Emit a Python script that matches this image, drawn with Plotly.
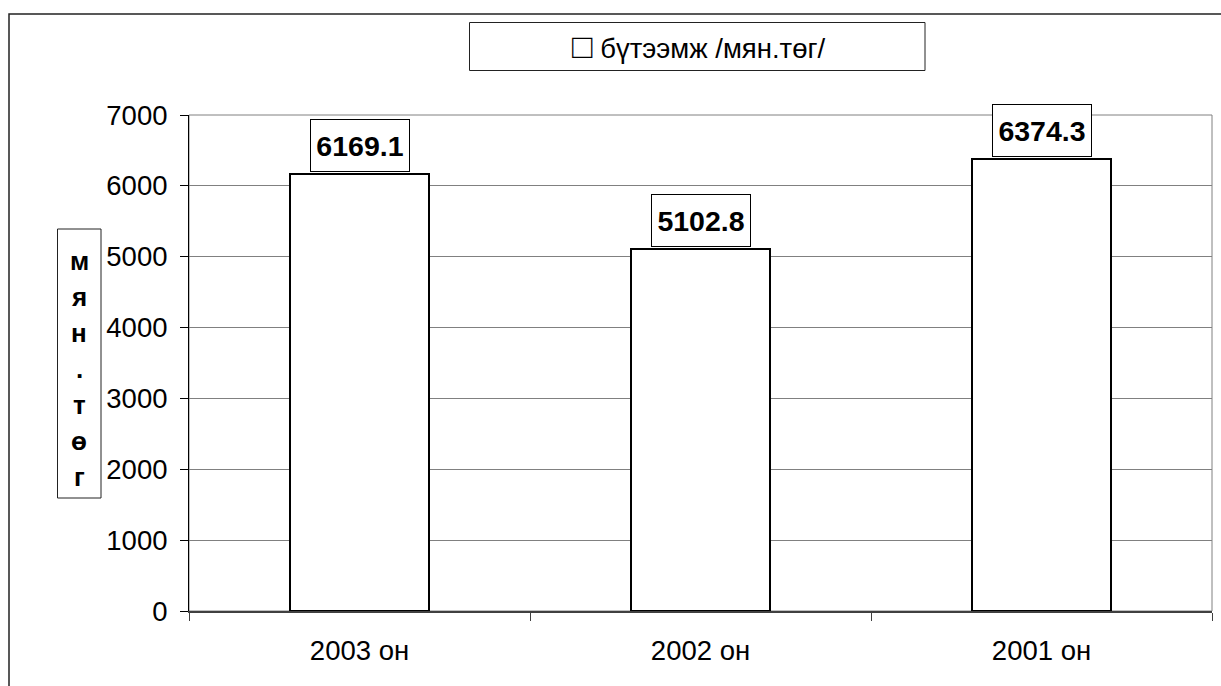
import plotly.graph_objects as go

# Data
categories = ["2003 он", "2002 он", "2001 он"]
values = [6169.1, 5102.8, 6374.3]
series_name = "бүтээмж /мян.төг/"
y_title = "мян.төг"
y_ticks = [0, 1000, 2000, 3000, 4000, 5000, 6000, 7000]

W, H = 1221, 686
# plot area edges in pixels
L, R, T, B = 189, 1212, 115, 611

def px_x(px):
    return (px - L) / (R - L)

def px_y(py):
    return (B - py) / (B - T)

FONT = "Liberation Sans, Arial, sans-serif"
FS = 27.5

fig = go.Figure(
    go.Bar(
        x=categories,
        y=values,
        width=0.41,
        name=series_name,
        showlegend=False,
        marker=dict(color="white", line=dict(color="black", width=2)),
    )
)

annotations = []
# value boxes above bars
for c, v in zip(categories, values):
    annotations.append(dict(
        x=c, y=v, xref="x", yref="y",
        text=f"<b>{v:.1f}</b>", showarrow=False,
        xanchor="center", yanchor="bottom", yshift=2,
        width=98, height=51, borderpad=0,
        bordercolor="black", borderwidth=1, bgcolor="white",
        font=dict(family=FONT, size=28.5, color="black"),
    ))

# legend-like box
annotations.append(dict(
    x=px_x(698), y=px_y(46), xref="paper", yref="paper",
    text="<span style='font-size:34px'>\u25a1</span> " + series_name,
    showarrow=False,
    xanchor="center", yanchor="middle",
    font=dict(family=FONT, size=FS, color="black"),
))

# stacked y-axis title letters
for i, ch in enumerate(y_title):
    annotations.append(dict(
        x=px_x(79), y=px_y(261 + 36 * i), xref="paper", yref="paper",
        text=f"<b>{ch}</b>", showarrow=False,
        xanchor="center", yanchor="middle",
        font=dict(family=FONT, size=26, color="black"),
    ))

shapes = [
    # plot area frame
    dict(type="rect", xref="paper", yref="paper", x0=0, x1=1, y0=0, y1=1,
         line=dict(color="#808080", width=1), layer="below"),
    # outer chart border
    dict(type="rect", xref="paper", yref="paper",
         x0=px_x(9), x1=px_x(1240), y0=px_y(700), y1=px_y(14),
         line=dict(color="#222222", width=1.5)),
    # legend box
    dict(type="rect", xref="paper", yref="paper",
         x0=px_x(469.5), x1=px_x(925), y0=px_y(70.5), y1=px_y(22.5),
         line=dict(color="#222222", width=1)),
    # y title box
    dict(type="rect", xref="paper", yref="paper",
         x0=px_x(57.5), x1=px_x(101), y0=px_y(498), y1=px_y(229),
         line=dict(color="#222222", width=1)),
]

fig.update_layout(
    width=W, height=H,
    margin=dict(l=L, r=W - R, t=T, b=H - B, pad=0),
    paper_bgcolor="white", plot_bgcolor="white",
    font=dict(family=FONT, size=FS, color="black"),
    showlegend=False,
    annotations=annotations,
    shapes=shapes,
    bargap=0,
    xaxis=dict(
        type="category", range=[-0.5, 2.5],
        tickson="boundaries", ticks="outside", ticklen=8,
        tickcolor="#404040", tickwidth=1,
        showline=True, linecolor="#404040", linewidth=2,
        showgrid=False, zeroline=False,
        tickfont=dict(family=FONT, size=FS, color="black"),
        ticklabelstandoff=14,
    ),
    yaxis=dict(
        range=[0, 7000], tickvals=y_ticks,
        showgrid=True, gridcolor="#808080", gridwidth=1,
        showline=True, linecolor="black", linewidth=1,
        ticks="outside", ticklen=8, tickcolor="black",
        zeroline=False,
        tickfont=dict(family=FONT, size=FS, color="black"),
        ticklabelstandoff=7,
    ),
)

fig.write_html("out.html")
